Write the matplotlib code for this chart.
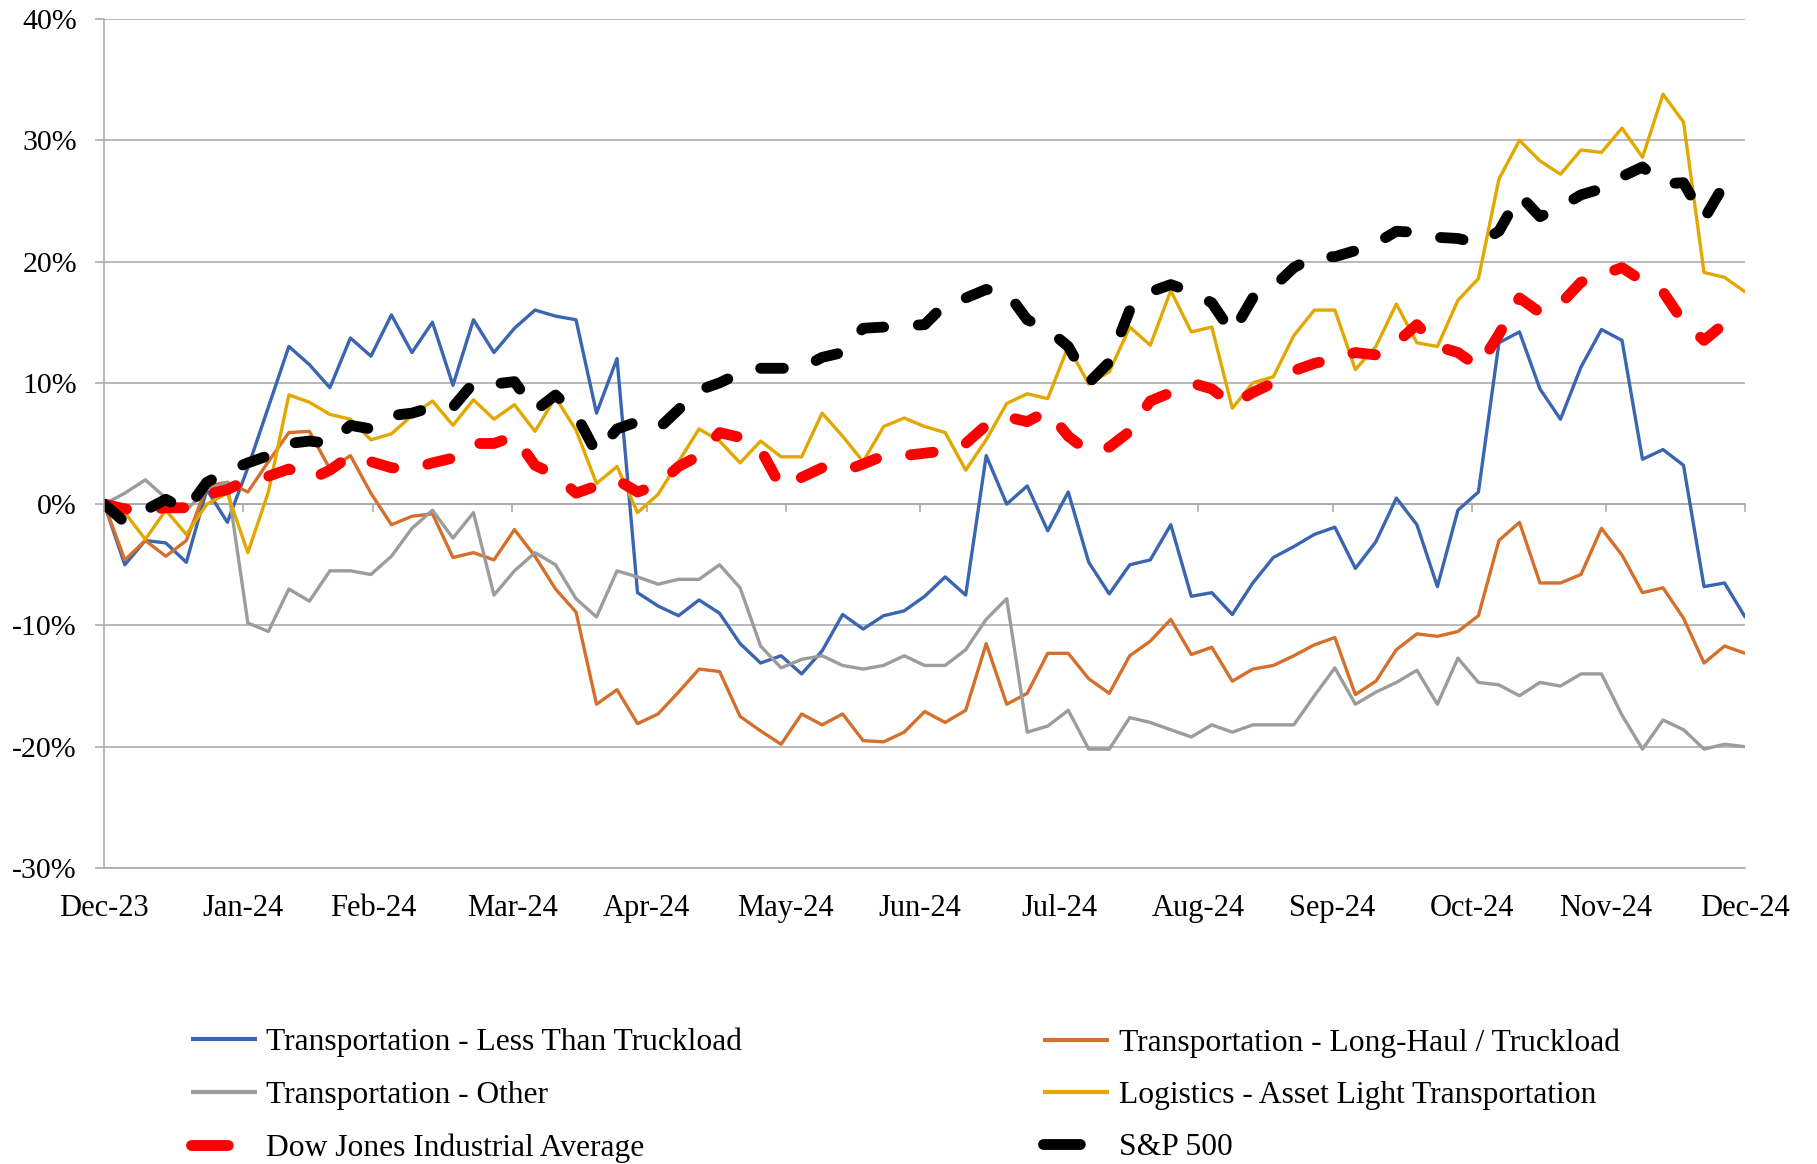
import numpy as np
import pandas as pd
import matplotlib
matplotlib.use("Agg")
import matplotlib.pyplot as plt
import matplotlib.dates as mdates
from matplotlib.lines import Line2D
from matplotlib.ticker import FuncFormatter

# ---------------- data (cumulative % change) ----------------
start_date = "2023-12-31"
end_date = "2024-12-31"

ltl = [0, -5.0, -3.0, -3.2, -4.8, 1.2, -1.5, 3.0, 8.0, 13.0, 11.5, 9.6, 13.7, 12.2,
       15.6,
       12.5, 15.0, 9.8, 15.2, 12.5, 14.5, 16.0, 15.5, 15.2, 7.5, 12.0, -7.3, -8.4,
       -9.2,
       -7.9, -9.0, -11.5, -13.1, -12.5, -14.0, -12.1, -9.1, -10.3, -9.2, -8.8, -7.6, -6.0,
       -7.5, 4.0, 0.0, 1.5, -2.2, 1.0, -4.8, -7.4, -5.0, -4.6, -1.7, -7.6, -7.3,
       -9.1,
       -6.5, -4.4, -3.5, -2.5, -1.9, -5.3, -3.1, 0.5, -1.7, -6.8, -0.5, 1.0, 13.3,
       14.2,
       9.5, 7.0, 11.3, 14.4, 13.5, 3.7, 4.5, 3.2, -6.8, -6.5, -9.3]

long_haul = [0, -4.6, -3.0, -4.3, -3.0, 1.5, 1.8, 1.0, 3.5, 5.9, 6.0, 2.9, 4.0, 0.9,
             -1.7,
             -1.0, -0.8, -4.4, -4.0, -4.6, -2.1, -4.3, -7.0, -8.9, -16.5, -15.3, -18.1, -17.3,
             -15.5,
             -13.6, -13.8, -17.5, -18.7, -19.8, -17.3, -18.2, -17.3, -19.5, -19.6, -18.8, -17.1, -18.0,
             -17.0, -11.5, -16.5, -15.6, -12.3, -12.3, -14.4, -15.6, -12.5, -11.3, -9.5, -12.4, -11.8,
             -14.6,
             -13.6, -13.3, -12.5, -11.6, -11.0, -15.7, -14.6, -12.0, -10.7, -10.9, -10.5, -9.2, -3.0,
             -1.5,
             -6.5, -6.5, -5.8, -2.0, -4.2, -7.3, -6.9, -9.4, -13.1, -11.7, -12.3]

other = [0, 0.9, 2.0, 0.5, -0.5, 1.2, 1.8, -9.8, -10.5, -7.0, -8.0, -5.5, -5.5, -5.8,
         -4.3,
         -2.0, -0.5, -2.8, -0.7, -7.5, -5.5, -4.0, -5.0, -7.8, -9.3, -5.5, -6.0, -6.6,
         -6.2,
         -6.2, -5.0, -6.9, -11.7, -13.5, -12.8, -12.5, -13.3, -13.6, -13.3, -12.5, -13.3, -13.3,
         -12.0, -9.5, -7.8, -18.8, -18.3, -17.0, -20.2, -20.2, -17.6, -18.0, -18.6, -19.2, -18.2,
         -18.8,
         -18.2, -18.2, -18.2, -15.8, -13.5, -16.5, -15.5, -14.7, -13.7, -16.5, -12.7, -14.7, -14.9,
         -15.8,
         -14.7, -15.0, -14.0, -14.0, -17.4, -20.2, -17.8, -18.6, -20.2, -19.8, -20.0]

logistics = [0, -0.7, -2.9, -0.5, -2.5, 0.0, 0.9, -4.0, 1.0, 9.0, 8.4, 7.4, 7.0, 5.3,
             5.8,
             7.3, 8.5, 6.5, 8.6, 7.0, 8.2, 6.0, 8.8, 6.1, 1.7, 3.1, -0.7, 0.8,
             3.5,
             6.2, 5.2, 3.4, 5.2, 3.9, 3.9, 7.5, 5.6, 3.5, 6.4, 7.1, 6.4, 5.9,
             2.8, 5.3, 8.3, 9.1, 8.7, 13.0, 9.9, 10.9, 14.6, 13.1, 17.6, 14.2, 14.6,
             7.9,
             10.0, 10.5, 13.9, 16.0, 16.0, 11.1, 13.0, 16.5, 13.3, 13.0, 16.8, 18.6, 26.8,
             30.0,
             28.3, 27.2, 29.2, 29.0, 31.0, 28.6, 33.8, 31.5, 19.1, 18.7, 17.5]

dow = [0, -0.4, -0.5, -0.3, -0.3, 0.8, 1.2, 2.0, 2.3, 2.9, 2.0, 2.8, 4.0, 3.5,
       3.0,
       2.9, 3.4, 3.8, 5.0, 5.0, 5.6, 3.2, 2.4, 0.9, 1.5, 2.0, 1.0, 1.6,
       3.1,
       4.0, 5.9, 5.5, 4.5, 1.4, 2.2, 3.0, 2.7, 3.3, 4.0, 4.0, 4.2, 4.4,
       5.0, 6.5, 7.2, 6.8, 7.7, 5.6, 4.3, 4.7, 6.0, 8.5, 9.2, 10.0, 9.5,
       8.2,
       9.2, 10.0, 11.0, 11.6, 12.0, 12.5, 12.3, 13.3, 14.8, 13.0, 12.5, 11.3, 14.0,
       17.0,
       15.8, 16.5, 18.3, 18.9, 19.5, 18.4, 17.5, 15.0, 13.5, 14.9, 14.0]

sp500 = [0, -1.5, -0.5, 0.4, -0.5, 1.8, 2.7, 3.4, 4.0, 5.0, 5.2, 5.0, 6.5, 6.2,
         7.3,
         7.5, 8.0, 8.0, 10.0, 9.9, 10.1, 7.7, 9.0, 7.4, 4.2, 6.2, 6.8, 6.2,
         7.8,
         9.4, 10.0, 10.8, 11.2, 11.2, 11.2, 12.1, 12.5, 14.5, 14.6, 14.7, 14.8, 16.5,
         17.0, 17.7, 17.5, 15.2, 14.4, 13.0, 10.0, 11.7, 16.0, 17.5, 18.1, 17.5, 16.6,
         14.1,
         17.0, 17.9, 19.5, 20.4, 20.4, 20.9, 21.5, 22.5, 22.4, 22.0, 21.9, 21.5, 22.5,
         25.5,
         23.7, 24.5, 25.5, 26.0, 27.0, 27.8, 26.4, 26.5, 23.5, 26.4, 26.2]

series_names = ["Transportation - Less Than Truckload",
                "Transportation - Long-Haul / Truckload",
                "Transportation - Other",
                "Logistics - Asset Light Transportation",
                "Dow Jones Industrial Average",
                "S&P 500"]

month_labels = ["Dec-23", "Jan-24", "Feb-24", "Mar-24", "Apr-24", "May-24", "Jun-24",
                "Jul-24", "Aug-24", "Sep-24", "Oct-24", "Nov-24", "Dec-24"]
y_ticks = [40, 30, 20, 10, 0, -10, -20, -30]

# ---------------- style ----------------
plt.rcParams["font.family"] = ["Liberation Serif", "DejaVu Serif"]
c_blue = "#3A65B0"
c_orange = "#D4702C"
c_gray = "#9C9C9C"
c_yellow = "#E2A800"
c_red = "#FF0000"
c_black = "#000000"
grid_color = "#A6A6A6"

fig = plt.figure(figsize=(18.17, 11.64), dpi=100)
ax = fig.add_axes([0.0574, 0.2543, 0.9030, 0.7294])

dates = pd.date_range(start_date, end_date, periods=len(ltl))
x = mdates.date2num(dates)
try:
    month_ends = pd.date_range(start_date, end_date, freq="ME")
except Exception:
    month_ends = pd.date_range(start_date, end_date, freq="M")
xm = mdates.date2num(month_ends)

solid_kw = dict(linewidth=2.4, solid_joinstyle="round", solid_capstyle="round")
dash_kw = dict(linewidth=7.8, linestyle=(0, (2.1, 3.2)), dash_capstyle="round",
               dash_joinstyle="round", solid_capstyle="round")

ax.plot(x, ltl, color=c_blue, **solid_kw)
ax.plot(x, long_haul, color=c_orange, **solid_kw)
ax.plot(x, other, color=c_gray, **solid_kw)
ax.plot(x, logistics, color=c_yellow, **solid_kw)
ax.plot(x, dow, color=c_red, **dash_kw)
ax.plot(x, sp500, color=c_black, **dash_kw)

ymin, ymax = -30, 40
ax.set_ylim(ymin, ymax)
ax.set_xlim(x[0], x[-1])
ax.set_yticks(y_ticks)
ax.yaxis.set_major_formatter(FuncFormatter(lambda v, p: f"{v:.0f}%"))
ax.grid(axis="y", color=grid_color, linewidth=1.1)
ax.set_axisbelow(True)

for s in ["top", "right"]:
    ax.spines[s].set_visible(False)
ax.spines["left"].set_color(grid_color)
ax.spines["left"].set_linewidth(1.1)
ax.spines["bottom"].set_color(grid_color)
ax.spines["bottom"].set_linewidth(1.1)

ax.tick_params(axis="y", length=6.7, width=1.1, color=grid_color, pad=13.0,
               labelsize=21.5, labelcolor="black")
ax.set_xticks(xm, month_labels)
ax.tick_params(axis="x", length=0, pad=18.5, labelsize=22, labelcolor="black")

# category axis crossing at 0% with outward tick marks
zero_loc = (0 - ymin) / (ymax - ymin)
secax = ax.secondary_xaxis(zero_loc)
secax.set_xticks(xm)
secax.tick_params(axis="x", direction="out", length=6, width=1.1, color=grid_color,
                  labelbottom=False, labeltop=False)
for s in secax.spines.values():
    s.set_color(grid_color)
    s.set_linewidth(1.1)

# ---------------- legend ----------------
def solid_handle(c):
    return Line2D([], [], color=c, linewidth=3.0, solid_capstyle="butt")

def dash_handle(c):
    return Line2D([], [], color=c, linewidth=7.8, linestyle=(0, (3.4, 20)),
                  dash_capstyle="round")

leg_kw = dict(loc="center left", frameon=False, fontsize=22.7, handlelength=2.1,
              handletextpad=0.3, labelspacing=0.74, borderpad=0, borderaxespad=0)
fig.legend(handles=[solid_handle(c_blue), solid_handle(c_gray), dash_handle(c_red)],
           labels=[series_names[0], series_names[2], series_names[4]],
           bbox_to_anchor=(0.105, 0.059), **leg_kw)
fig.legend(handles=[solid_handle(c_orange), solid_handle(c_yellow), dash_handle(c_black)],
           labels=[series_names[1], series_names[3], series_names[5]],
           bbox_to_anchor=(0.574, 0.059), **leg_kw)

fig.savefig("out.png", dpi=100)
